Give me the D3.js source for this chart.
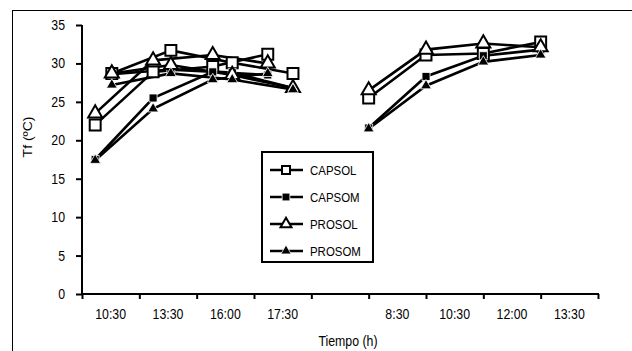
<!DOCTYPE html>
<html><head><meta charset="utf-8">
<script src="https://cdn.jsdelivr.net/npm/d3@7/dist/d3.min.js"></script>
<style>
html,body{margin:0;padding:0;background:#fff;}
text{font-family:"Liberation Sans",Arial,sans-serif;fill:#000;}
</style></head>
<body><svg id="c" width="632" height="351"></svg>
<script>
// ---- data ----
const categories = ["10:30","13:30","16:00","17:30","","8:30","10:30","12:00","13:30"];
const seriesNames = ["CAPSOL","CAPSOM","PROSOL","PROSOM"];
const yTicks = [0,5,10,15,20,25,30,35];
// day 1, first run (x in category units)
const runAPos = [0.23, 1.24, 2.28, 3.24];
const runA_CAPSOL = [22.0, 28.9, 29.6, 31.2];
const runA_CAPSOM = [17.5, 25.5, 28.9, 28.5];
const runA_PROSOL = [23.5, 30.4, 31.1, 30.0];
const runA_PROSOM = [17.4, 24.1, 27.9, 28.7];
// day 1, second run
const runBPos = [0.52, 1.55, 2.62, 3.68];
const runB_CAPSOL = [28.7, 31.7, 30.1, 28.7];
const runB_CAPSOM = [28.6, 29.2, 28.8, 26.8];
const runB_PROSOL = [28.7, 29.8, 28.5, 26.8];
const runB_PROSOM = [27.2, 28.7, 27.9, 26.6];
// day 2
const day2Pos = [5, 6, 7, 8];
const day2_CAPSOL = [25.5, 31.1, 31.3, 32.8];
const day2_CAPSOM = [21.6, 28.3, 31.0, 31.8];
const day2_PROSOL = [26.5, 31.8, 32.6, 32.1];
const day2_PROSOM = [21.5, 27.1, 30.2, 31.1];

const groups = [
  {pos: runAPos, vals: [runA_CAPSOL, runA_CAPSOM, runA_PROSOL, runA_PROSOM]},
  {pos: runBPos, vals: [runB_CAPSOL, runB_CAPSOM, runB_PROSOL, runB_PROSOM]},
  {pos: day2Pos, vals: [day2_CAPSOL, day2_CAPSOM, day2_PROSOL, day2_PROSOM]}
];

// ---- layout ----
const svg = d3.select("#c");
const L = 82, R = 598, T = 25, B = 294;
const SX = 0.88; // horizontal text squeeze
const x = d3.scaleLinear().domain([0, categories.length]).range([L, R]);
const y = d3.scaleLinear().domain([0, 35]).range([B, T]);

svg.append("rect").attr("x",12.5).attr("y",10.5).attr("width",640).attr("height",360)
  .attr("fill","none").attr("stroke","#000").attr("stroke-width",1);

function txt(g, s, tx, ty, size, anchor, extra){
  return g.append("text").attr("transform",`translate(${tx},${ty})${extra||""} scale(${SX},1)`)
    .attr("text-anchor",anchor).attr("font-size",size).text(s);
}

const styles = [
  {type: d3.symbolSquare, size: 120, fill: "#fff", lsize: 64},
  {type: d3.symbolSquare, size: 64, fill: "#000", lsize: 60},
  {type: d3.symbolTriangle, size: 85, fill: "#fff", lsize: 52},
  {type: d3.symbolTriangle, size: 50, fill: "#000", lsize: 46}
];
function marker(g, s, cx, cy, size){
  g.append("path").attr("d", d3.symbol().type(s.type).size(size)())
    .attr("transform", `translate(${cx},${cy})`)
    .attr("fill", s.fill)
    .attr("stroke", s.fill === "#fff" ? "#000" : "#fff")
    .attr("stroke-width", s.fill === "#fff" ? 2 : 0.8);
}

// axes
const yAxis = svg.append("g").attr("transform",`translate(${L},0)`)
  .call(d3.axisLeft(y).tickValues(yTicks).tickSize(6).tickFormat(""));
const xAxis = svg.append("g").attr("transform",`translate(0,${B})`)
  .call(d3.axisBottom(x).tickValues(d3.range(0, categories.length+1)).tickSize(5).tickFormat(""));
[yAxis, xAxis].forEach(a=>{
  a.select(".domain").attr("stroke","#000").attr("stroke-width",2);
  a.selectAll(".tick line").attr("stroke","#000").attr("stroke-width",2);
});
yAxis.select(".domain").attr("d", `M0,${B+1}V${T}`);
xAxis.select(".domain").attr("d", `M${L-1},0H${R+1}`);

const labels = svg.append("g");
yTicks.forEach(v=> txt(labels, String(v), 65, y(v)+5, 14, "end"));
categories.forEach((c,i)=> txt(labels, c, x(i+0.5), 319, 14, "middle"));
txt(labels, "Tiempo (h)", 348, 346, 14, "middle");
labels.append("text").attr("transform","translate(32,137) rotate(-90) scale(1,0.9)")
  .attr("text-anchor","middle").attr("font-size",14).text("Tf (ºC)");

// lines
const line = d3.line().x(d=>x(d[0])).y(d=>y(d[1]));
const plot = svg.append("g");
groups.forEach(gp=>{
  gp.vals.forEach(v=>{
    plot.append("path").attr("d", line(v.map((val,i)=>[gp.pos[i], val])))
      .attr("fill","none").attr("stroke","#000").attr("stroke-width",2.6);
  });
});
groups.forEach(gp=>{
  gp.vals.forEach((v,si)=>{
    v.forEach((val,i)=> marker(plot, styles[si], x(gp.pos[i]), y(val), styles[si].size));
  });
});

// legend
const lg = svg.append("g");
lg.append("rect").attr("x",262).attr("y",152).attr("width",111).attr("height",110)
  .attr("fill","#fff").attr("stroke","#000").attr("stroke-width",2);
seriesNames.forEach((n,i)=>{
  const cy = 170 + i*27;
  lg.append("line").attr("x1",270).attr("x2",303).attr("y1",cy).attr("y2",cy)
    .attr("stroke","#000").attr("stroke-width",2.4);
  marker(lg, styles[i], 286, cy, styles[i].lsize);
  txt(lg, n, 310, cy+5, 13, "start");
});
</script></body></html>
